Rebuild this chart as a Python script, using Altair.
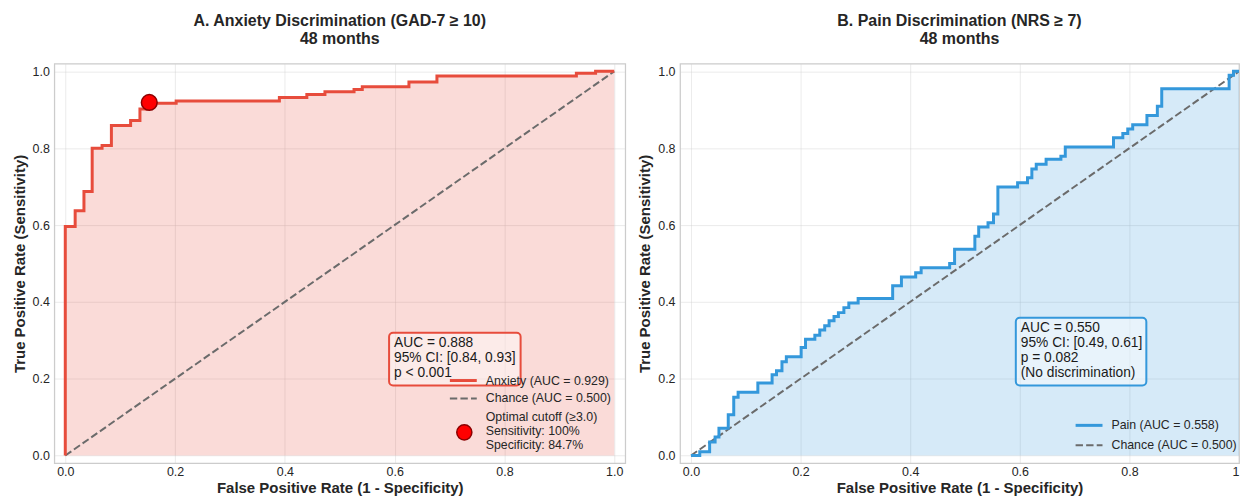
import altair as alt
import pandas as pd

# ---------------- data ----------------
anx_fpr = [0.0, 0.0, 0.018, 0.034, 0.049, 0.067, 0.084, 0.119, 0.136, 0.148, 0.202,
           0.390, 0.440, 0.473, 0.526, 0.541, 0.626, 0.677, 0.931, 0.966, 1.0]
anx_tpr = [0.0, 0.596, 0.637, 0.687, 0.800, 0.807, 0.859, 0.872, 0.902, 0.917, 0.923,
           0.932, 0.940, 0.947, 0.953, 0.960, 0.972, 0.988, 0.995, 1.0, 1.0]

pain_fpr = [0.0, 0.016, 0.034, 0.044, 0.051, 0.068, 0.078, 0.086, 0.122, 0.148, 0.156,
            0.166, 0.174, 0.201, 0.209, 0.226, 0.235, 0.244, 0.252, 0.261, 0.269,
            0.279, 0.288, 0.305, 0.368, 0.384, 0.410, 0.420, 0.472, 0.481, 0.518,
            0.525, 0.542, 0.552, 0.560, 0.596, 0.614, 0.622, 0.630, 0.648, 0.675,
            0.683, 0.771, 0.788, 0.797, 0.806, 0.832, 0.851, 0.859, 0.982, 0.990, 1.0]
pain_tpr = [0.0, 0.010, 0.035, 0.048, 0.071, 0.106, 0.152, 0.165, 0.189, 0.210, 0.221,
            0.244, 0.257, 0.281, 0.303, 0.313, 0.327, 0.338, 0.351, 0.362, 0.372,
            0.385, 0.397, 0.409, 0.442, 0.465, 0.476, 0.489, 0.500, 0.537, 0.571,
            0.595, 0.606, 0.629, 0.699, 0.710, 0.723, 0.746, 0.758, 0.771, 0.779,
            0.803, 0.827, 0.838, 0.850, 0.861, 0.885, 0.909, 0.955, 0.990, 1.0, 1.0]

chance_fpr = [0.0, 1.0]
chance_tpr = [0.0, 1.0]

cutoff_fpr = [0.153]
cutoff_tpr = [0.919]

tick_values = [0.0, 0.2, 0.4, 0.6, 0.8, 1.0]

title_a = ["A. Anxiety Discrimination (GAD-7 \u2265 10)", "48 months"]
title_b = ["B. Pain Discrimination (NRS \u2265 7)", "48 months"]
box_a = ["AUC = 0.888", "95% CI: [0.84, 0.93]", "p < 0.001"]
box_b = ["AUC = 0.550", "95% CI: [0.49, 0.61]", "p = 0.082", "(No discrimination)"]
leg_a = ["Anxiety (AUC = 0.929)", "Chance (AUC = 0.500)"]
leg_a_cut = ["Optimal cutoff (\u22653.0)", "Sensitivity: 100%", "Specificity: 84.7%"]
leg_b = ["Pain (AUC = 0.558)", "Chance (AUC = 0.500)"]

RED = "#e74c3c"
BLUE = "#3498db"
GRAY = "#6b6b6b"
FONT = "Liberation Sans"
H = 401

one = pd.DataFrame({"k": [0]})


def xenc(xmax, clipped):
    ax = dict(values=tick_values, format=".1f",
              title="False Positive Rate (1 - Specificity)")
    if clipped:
        ax["labelExpr"] = "datum.value >= 1 ? '1' : datum.label"
        ax["labelAlign"] = {"condition": {"test": "datum.value >= 1", "value": "right"},
                            "value": "center"}
    return alt.X("fpr:Q",
                 scale=alt.Scale(domain=[-0.02, xmax], nice=False, zero=False),
                 axis=alt.Axis(**ax))


def yenc():
    return alt.Y("tpr:Q",
                 scale=alt.Scale(domain=[-0.02, 1.02], nice=False, zero=False),
                 axis=alt.Axis(values=tick_values, format=".1f",
                               title="True Positive Rate (Sensitivity)"))


def panel(fpr, tpr, color, title, box_lines, box_x, box_y, text_y, leg_lines,
          leg_x, leg_y, width, xmax, clipped, cut=None):
    roc = pd.DataFrame({"fpr": fpr, "tpr": tpr, "i": list(range(len(fpr)))})
    roc["base"] = 0.0
    roc_area = roc[(roc["i"] > 0) | (roc["fpr"] > 0)]
    chance = pd.DataFrame({"fpr": chance_fpr, "tpr": chance_tpr})
    X = xenc(xmax, clipped)

    area = alt.Chart(roc_area).mark_area(
        interpolate="step-after", color=color, fillOpacity=0.2, clip=clipped
    ).encode(x=X, y=yenc(), y2="base:Q")

    diag = alt.Chart(chance).mark_line(
        color=GRAY, strokeDash=[7.4, 3.2], strokeWidth=2, clip=clipped
    ).encode(x=X, y=yenc())

    line = alt.Chart(roc).mark_line(
        interpolate="step-after", color=color, strokeWidth=3, clip=clipped
    ).encode(x=X, y=yenc(), order="i:Q")

    layers = [area, diag, line]

    if cut is not None:
        cdf = pd.DataFrame({"fpr": cut[0], "tpr": cut[1]})
        layers.append(alt.Chart(cdf).mark_point(
            shape="circle", filled=True, size=250, fill="#ff0000",
            stroke="#8b0000", strokeWidth=1.5, opacity=1
        ).encode(x=X, y=yenc()))

    # annotation box
    bx0, bx1 = box_x
    by0, by1 = box_y
    layers.append(alt.Chart(one).mark_rect(
        fill="white", fillOpacity=0.45, stroke=color, strokeWidth=2, cornerRadius=4
    ).encode(x=alt.value(bx0), x2=alt.value(bx1), y=alt.value(by0), y2=alt.value(by1)))
    layers.append(alt.Chart(one).mark_text(
        text=box_lines, align="left", baseline="middle", fontSize=13.8, lineHeight=15.3,
        color="#1a1a1a", font=FONT
    ).encode(x=alt.value(bx0 + 5), y=alt.value(text_y)))

    # legend
    hx0, hx1, tx = leg_x
    y1, y2 = leg_y
    layers.append(alt.Chart(one).mark_rule(color=color, strokeWidth=3).encode(
        x=alt.value(hx0), x2=alt.value(hx1), y=alt.value(y1)))
    layers.append(alt.Chart(one).mark_rule(color=GRAY, strokeWidth=2,
                                           strokeDash=[7.4, 3.2]).encode(
        x=alt.value(hx0), x2=alt.value(hx1), y=alt.value(y2)))
    for txt, yy in zip(leg_lines, [y1, y2]):
        layers.append(alt.Chart(one).mark_text(
            text=txt, align="left", baseline="middle", fontSize=12.4, color="#262626",
            font=FONT
        ).encode(x=alt.value(tx), y=alt.value(yy)))
    if cut is not None:
        cy = 369
        layers.append(alt.Chart(one).mark_point(
            shape="circle", filled=True, size=230, fill="#ff0000",
            stroke="#8b0000", strokeWidth=1.5, opacity=1
        ).encode(x=alt.value((hx0 + hx1) / 2 + 1), y=alt.value(cy + 1)))
        layers.append(alt.Chart(one).mark_text(
            text=leg_a_cut, align="left", baseline="middle", fontSize=12.4,
            lineHeight=14, color="#262626", font=FONT
        ).encode(x=alt.value(tx), y=alt.value(cy - 14)))

    return alt.layer(*layers).properties(
        width=width, height=H,
        title=alt.TitleParams(text=title, fontSize=16, fontWeight="bold",
                              anchor="middle", color="#262626", font=FONT,
                              lineHeight=18, offset=17),
    )


left = panel(anx_fpr, anx_tpr, RED, title_a, box_a, (336, 468), (270, 323), 280,
             leg_a, (397, 424, 433), (318, 336), 573, 1.02, False,
             cut=(cutoff_fpr, cutoff_tpr))
right = panel(pain_fpr, pain_tpr, BLUE, title_b, box_b, (337, 468), (255, 323), 265,
              leg_b, (397, 424, 433), (363, 383), 561, 1.0, True)

chart = alt.hconcat(left, right, spacing=10).properties(
    padding={"left": 10.5, "top": 11, "right": 0, "bottom": 0}
).configure(font=FONT).configure_view(
    stroke="#cccccc", strokeWidth=1.25
).configure_axis(
    grid=True, gridColor="#cccccc", gridOpacity=0.4, gridWidth=1,
    domain=False, ticks=False, tickSize=0,
    labelFont=FONT, labelFontSize=12.5, labelColor="#262626",
    titleFont=FONT, titleFontSize=15, titleFontWeight="bold", titleColor="#262626",
).configure_axisX(labelPadding=2, titlePadding=3).configure_axisY(
    labelPadding=5, titlePadding=5
)

chart.save("out.html", embed_options={"renderer": "svg", "actions": False})
